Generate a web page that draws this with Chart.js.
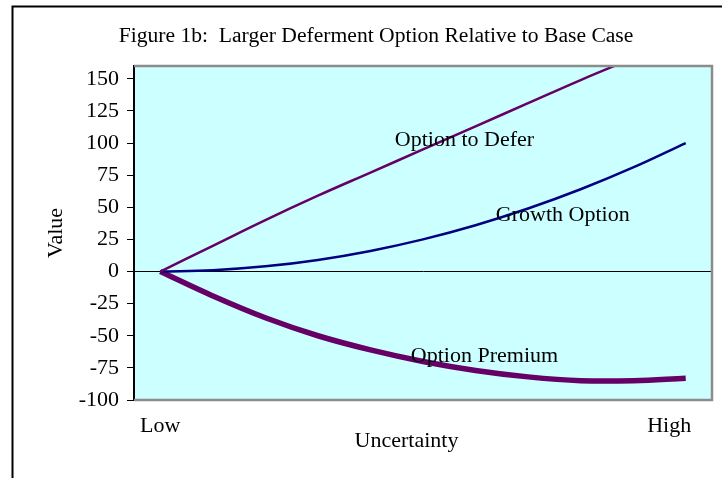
<!DOCTYPE html>
<html>
<head>
<meta charset="utf-8">
<script src="https://cdn.jsdelivr.net/npm/chart.js@4"></script>
<style>
  html, body { margin: 0; padding: 0; background: #fff; }
  #wrap { position: relative; width: 722px; height: 478px; }
</style>
</head>
<body>
<div id="wrap"><canvas id="chart" width="722" height="478"></canvas></div>
<script>
// uncertainty steps, Low .. High
const categories = ['Low', '', '', '', '', '', '', '', '', '', 'High'];
const optionToDefer = [0, 20, 40, 59, 77, 95, 113, 131, 149, 166, 183];
const growthOption = [0, 1, 4, 9, 16, 25, 36, 49, 64, 81, 100];
const optionPremium = [0, -19, -36, -50, -61, -70, -77, -82, -85, -85, -83];
const yTicks = [-100, -75, -50, -25, 0, 25, 50, 75, 100, 125, 150];

// in-plot labels, placed in data units (category index, value)
const seriesNotes = [
  { text: 'Option to Defer', x: 5.79, y: 102 },
  { text: 'Growth Option', x: 7.66, y: 44 },
  { text: 'Option Premium', x: 6.17, y: -66 }
];

const serif = "'Liberation Serif', 'Times New Roman', serif";
const fontSize = 22;
// trailing no-break spaces nudge a centred label to the left
const nudge = '\u00a0\u00a0\u00a0\u00a0\u00a0\u00a0';

// page frame, plot background, plot border, in-plot labels
const framePlugin = {
  id: 'frame',
  beforeDraw(chart) {
    const c = chart.ctx;
    const a = chart.chartArea;
    c.save();
    c.strokeStyle = '#000';
    c.lineWidth = 2;
    c.beginPath();
    c.moveTo(12.5, 478);
    c.lineTo(12.5, 6.5);
    c.lineTo(722, 6.5);
    c.stroke();
    c.fillStyle = '#ccffff';
    c.fillRect(a.left, a.top, a.right - a.left, a.bottom - a.top);
    c.restore();
  },
  afterDatasetsDraw(chart) {
    const c = chart.ctx;
    const a = chart.chartArea;
    c.save();
    c.strokeStyle = '#8c8c8c';
    c.lineWidth = 2.5;
    c.beginPath();
    c.moveTo(a.left, a.top);
    c.lineTo(a.right, a.top);
    c.lineTo(a.right, a.bottom);
    c.lineTo(a.left, a.bottom);
    c.stroke();
    c.fillStyle = '#000';
    c.font = fontSize + 'px ' + serif;
    c.textAlign = 'center';
    c.textBaseline = 'middle';
    seriesNotes.forEach(function (n) {
      c.fillText(n.text, chart.scales.x.getPixelForValue(n.x), chart.scales.y.getPixelForValue(n.y));
    });
    c.restore();
  }
};

const ctx = document.getElementById('chart').getContext('2d');
const lineChart = new Chart(ctx, {
  type: 'line',
  data: {
    labels: categories,
    datasets: [
      {
        label: 'Option to Defer',
        data: optionToDefer,
        borderColor: '#660066',
        borderWidth: 2.5,
        pointRadius: 0,
        tension: 0.4
      },
      {
        label: 'Growth Option',
        data: growthOption,
        borderColor: '#000080',
        borderWidth: 2.5,
        pointRadius: 0,
        tension: 0.4
      },
      {
        label: 'Option Premium',
        data: optionPremium,
        borderColor: '#660066',
        borderWidth: 5.5,
        pointRadius: 0,
        tension: 0.4
      }
    ]
  },
  options: {
    responsive: false,
    animation: false,
    layout: { padding: { left: 40, right: 10, top: 0, bottom: 24 } },
    plugins: {
      legend: { display: false },
      tooltip: { enabled: false },
      title: {
        display: true,
        text: 'Figure 1b:  Larger Deferment Option Relative to Base Case',
        color: '#000',
        font: { family: serif, size: 21.6, weight: 'normal' },
        padding: { top: 23, bottom: 17 }
      }
    },
    scales: {
      x: {
        offset: true,
        grid: { display: false, offset: true },
        border: { display: false },
        ticks: {
          color: '#000',
          font: { family: serif, size: fontSize },
          padding: 5,
          maxRotation: 0,
          autoSkip: false,
          callback: function (v, i) {
            const s = categories[i];
            return s === 'High' ? s + nudge : s;
          }
        },
        title: {
          display: true,
          text: 'Uncertainty' + nudge,
          color: '#000',
          font: { family: serif, size: fontSize },
          padding: { top: 0, bottom: 0 }
        },
        afterFit: function (scale) {
          scale.height = 54;
          scale.paddingLeft = 0;
          scale.paddingRight = 0;
        }
      },
      y: {
        min: -100,
        max: 160,
        afterBuildTicks: function (scale) {
          scale.ticks = yTicks.map(function (v) { return { value: v }; });
        },
        grid: {
          color: function (c) { return c.tick && c.tick.value === 0 ? '#000' : 'rgba(0,0,0,0)'; },
          tickColor: '#000',
          tickLength: 7,
          lineWidth: 1
        },
        border: { display: true, color: '#000', width: 2 },
        ticks: {
          color: '#000',
          font: { family: serif, size: fontSize },
          padding: 8
        },
        title: {
          display: true,
          text: 'Value',
          color: '#000',
          font: { family: serif, size: fontSize },
          padding: { top: 3, bottom: 0 }
        },
        afterFit: function (scale) {
          scale.width = 94;
          scale.paddingTop = 0;
          scale.paddingBottom = 0;
        }
      }
    }
  },
  plugins: [framePlugin]
});
</script>
</body>
</html>
